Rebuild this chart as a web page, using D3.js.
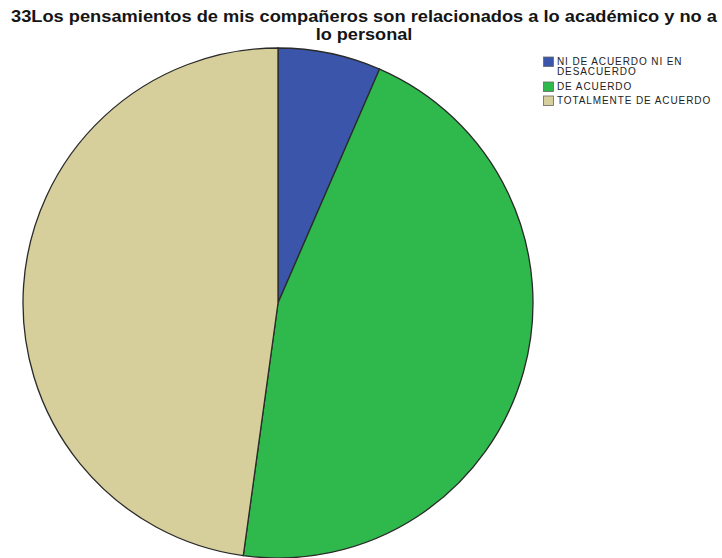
<!DOCTYPE html>
<html>
<head>
<meta charset="utf-8">
<script src="https://cdn.jsdelivr.net/npm/d3@7"></script>
<style>
  html, body { margin: 0; padding: 0; background: #fff; }
  svg { display: block; }
</style>
</head>
<body>
<svg id="chart" width="722" height="558"></svg>
<script>
// Response categories and counts
const categories = ["NI DE ACUERDO NI EN DESACUERDO", "DE ACUERDO", "TOTALMENTE DE ACUERDO"];
const legendLines = [["NI DE ACUERDO NI EN", "DESACUERDO"], ["DE ACUERDO"], ["TOTALMENTE DE ACUERDO"]];
const counts = [3, 21, 22];
const colors = ["#3a55aa", "#2fb84c", "#d6cf9c"];
const titleLines = ["33Los pensamientos de mis compañeros son relacionados a lo académico y no a", "lo personal"];

const svg = d3.select("#chart");
const font = "Liberation Sans, Arial, sans-serif";

// Title, the first line stretched to the full width of the chart
svg.append("g")
  .selectAll("text")
  .data(titleLines)
  .join("text")
  .attr("x", 364)
  .attr("y", (d, i) => 22 + i * 18)
  .attr("text-anchor", "middle")
  .attr("font-family", font)
  .attr("font-weight", "bold")
  .attr("font-size", 16.5)
  .attr("fill", "#151515")
  .attr("textLength", (d, i) => i === 0 ? 706 : null)
  .attr("lengthAdjust", "spacingAndGlyphs")
  .attr("transform", (d, i) => i === 1 ? "translate(364,0) scale(1.1,1) translate(-364,0)" : null)
  .text(d => d);

// Pie
const cx = 278, cy = 303, r = 255;
const pie = d3.pie().sort(null).value(d => d);
const arc = d3.arc().innerRadius(0).outerRadius(r);
const color = d3.scaleOrdinal().domain(d3.range(categories.length)).range(colors);

svg.append("g")
  .attr("transform", `translate(${cx},${cy})`)
  .selectAll("path")
  .data(pie(counts))
  .join("path")
  .attr("d", arc)
  .attr("fill", (d, i) => color(i))
  .attr("stroke", "#2a2a2a")
  .attr("stroke-width", 1.3);

// Legend
const swatchY = [57, 82, 96];
const legend = svg.append("g").attr("font-family", font)
  .attr("font-size", 10).attr("fill", "#222").attr("letter-spacing", 0.9);
legend.selectAll("rect")
  .data(categories)
  .join("rect")
  .attr("x", 543.5)
  .attr("y", (d, i) => swatchY[i])
  .attr("width", 10)
  .attr("height", 9.5)
  .attr("fill", (d, i) => color(i))
  .attr("stroke", "#666")
  .attr("stroke-width", 0.8);
legend.selectAll("text")
  .data(legendLines)
  .join("text")
  .attr("y", (d, i) => swatchY[i] + 7.5)
  .selectAll("tspan")
  .data(d => d)
  .join("tspan")
  .attr("x", 557)
  .attr("dy", (d, j) => j === 0 ? 0 : 10.5)
  .text(d => d);
</script>
</body>
</html>
